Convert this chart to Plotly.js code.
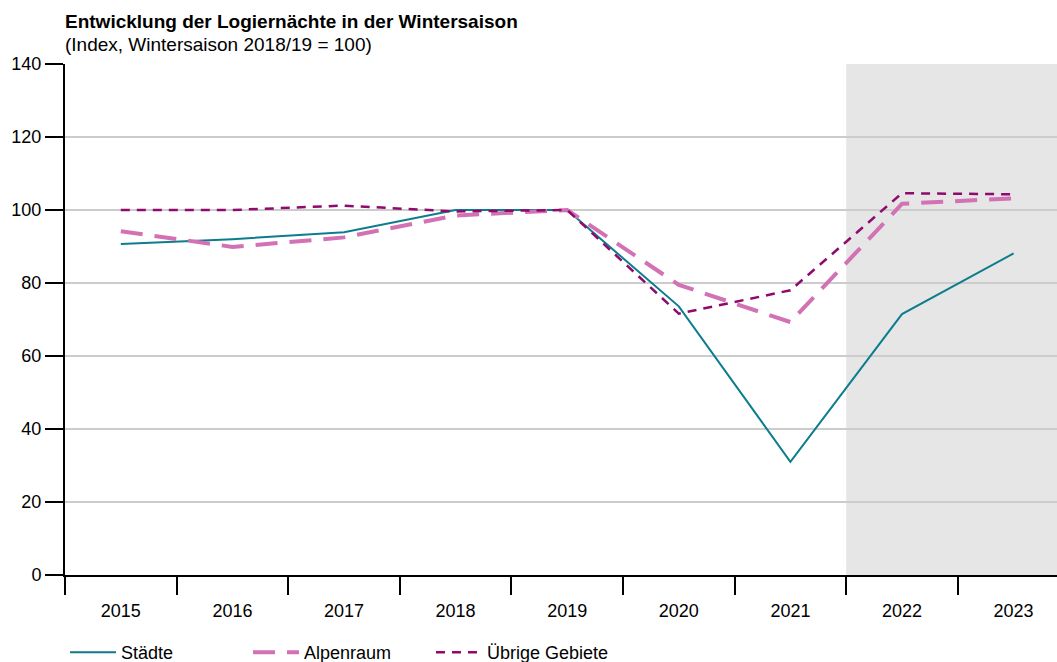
<!DOCTYPE html>
<html>
<head>
<meta charset="utf-8">
<script src="https://cdn.plot.ly/plotly-3.0.1.min.js"></script>
<style>html,body{margin:0;padding:0;background:#fff;}#chart{width:1057px;height:662px;}</style>
</head>
<body>
<div id="chart"></div>
<script>
const years = ['2015','2016','2017','2018','2019','2020','2021','2022','2023'];
const staedte = [90.7, 92.0, 93.9, 100.0, 100.0, 73.6, 31.0, 71.5, 88.1];
const alpenraum = [94.2, 89.9, 92.5, 98.5, 100.0, 79.5, 69.3, 101.7, 103.2];
const uebrige = [100.0, 100.0, 101.2, 99.6, 100.0, 71.6, 78.0, 104.6, 104.3];
const seriesNames = ['Städte', 'Alpenraum', 'Übrige Gebiete'];
const titleText = 'Entwicklung der Logiernächte in der Wintersaison';
const subtitleText = '(Index, Wintersaison 2018/19 = 100)';

const FONT = 'Liberation Sans, Arial, sans-serif';

const traces = [
  {x: years, y: staedte, name: seriesNames[0], type: 'scatter', mode: 'lines',
   line: {color: '#0c7d8d', width: 2}},
  {x: years, y: alpenraum, name: seriesNames[1], type: 'scatter', mode: 'lines',
   line: {color: '#d271b3', width: 4, dash: '22px,12px'}},
  {x: years, y: uebrige, name: seriesNames[2], type: 'scatter', mode: 'lines',
   line: {color: '#8e0a6f', width: 2.5, dash: '9px,7px'}}
];

const layout = {
  width: 1057, height: 662,
  margin: {l: 65, r: 0, t: 64, b: 87, pad: 0, autoexpand: false},
  paper_bgcolor: '#ffffff', plot_bgcolor: '#ffffff',
  font: {family: FONT, size: 18, color: '#000'},
  annotations: [
    {text: '<b>' + titleText + '</b>', xref: 'paper', yref: 'paper',
     x: 0, xanchor: 'left', xshift: -2, y: (575 - 22) / 511, yanchor: 'middle',
     showarrow: false, font: {family: FONT, size: 19, color: '#000'}},
    {text: subtitleText, xref: 'paper', yref: 'paper',
     x: 0, xanchor: 'left', xshift: -2, y: (575 - 45) / 511, yanchor: 'middle',
     showarrow: false, font: {family: FONT, size: 19, color: '#000'}}
  ],
  xaxis: {
    type: 'category', categoryorder: 'array', categoryarray: years,
    range: [-0.5, -0.5 + 992/111.6],
    showgrid: false, zeroline: false,
    showline: true, linecolor: '#000', linewidth: 2,
    ticks: 'outside', tickson: 'boundaries', ticklen: 18, tickwidth: 2, tickcolor: '#000',
    ticklabelstandoff: 18,
    tickfont: {family: FONT, size: 18, color: '#000'},
    fixedrange: true
  },
  yaxis: {
    range: [0, 140], tickvals: [0,20,40,60,80,100,120,140],
    showgrid: true, gridcolor: '#cccccc', gridwidth: 2, zeroline: false,
    showline: true, linecolor: '#000', linewidth: 2,
    ticks: 'outside', ticklen: 18, tickwidth: 2, tickcolor: '#000',
    tickfont: {family: FONT, size: 18, color: '#000'},
    fixedrange: true
  },
  shapes: [{
    type: 'rect', xref: 'x', yref: 'y', x0: 6.5, x1: 9.5, y0: 0, y1: 140,
    fillcolor: '#e6e6e6', line: {width: 0}, layer: 'below'
  }],
  showlegend: true,
  legend: {
    orientation: 'h', x: 0, xanchor: 'left', y: -0.1155, yanchor: 'top',
    font: {family: FONT, size: 18, color: '#000'},
    entrywidth: 122, entrywidthmode: 'pixels', itemwidth: 46,
    bgcolor: 'rgba(0,0,0,0)', traceorder: 'normal'
  }
};

Plotly.newPlot('chart', traces, layout, {displayModeBar: false, staticPlot: true});
</script>
</body>
</html>
